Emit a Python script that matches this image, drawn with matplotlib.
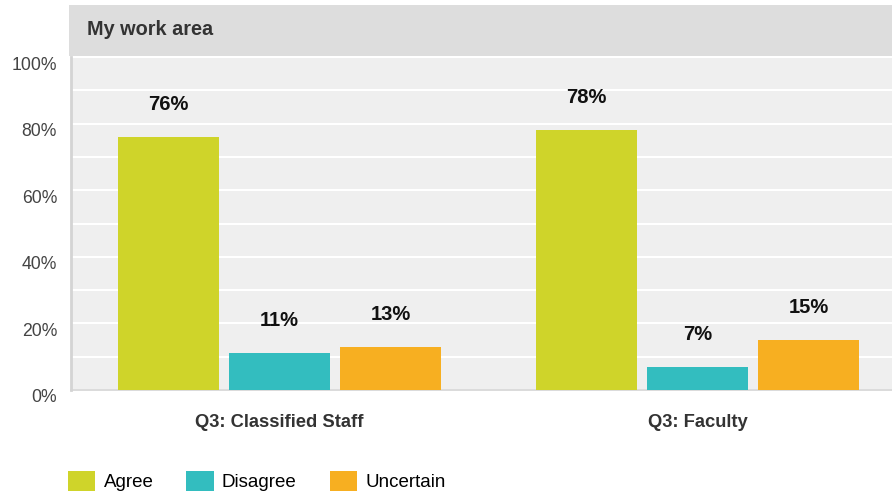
import matplotlib.pyplot as plt
import matplotlib.transforms as mtransforms
from matplotlib.patches import Patch
import numpy as np

plt.rcParams['font.family'] = ['Liberation Sans', 'DejaVu Sans']

categories = ["Q3: Classified Staff", "Q3: Faculty"]
series = ["Agree", "Disagree", "Uncertain"]
agree = [76, 78]
disagree = [11, 7]
uncertain = [13, 15]
colors = ["#cfd42a", "#33bdbf", "#f7af21"]
title = "My work area"

W, H = 892, 492
fig = plt.figure(figsize=(W / 100, H / 100), dpi=100)

# title bar
tax = fig.add_axes([69 / W, 1 - 56 / H, (W - 69) / W, 51 / H])
tax.set_facecolor("#dddddd")
tax.set_xticks([]); tax.set_yticks([])
for s in tax.spines.values():
    s.set_visible(False)
tax.text(18 / (W - 69), 0.52, title, fontsize=14.3, fontweight="bold", color="#333333",
         va="center", ha="left", transform=tax.transAxes)

ax = fig.add_axes([71 / W, 1 - 390 / H, (W - 71) / W, 333 / H])
ax.set_facecolor("#efefef")
ax.set_axisbelow(True)

x = np.arange(len(categories))
width = 0.2416
step = 0.2655
for i, (vals, c) in enumerate(zip([agree, disagree, uncertain], colors)):
    pos = x + (i - 1) * step
    ax.bar(pos, vals, width=width, color=c, zorder=3)
    for p, v in zip(pos, vals):
        ax.text(p, v + 9.8, f"{v}%", ha="center", va="center", fontsize=14.5,
                fontweight="bold", color="#111111", zorder=4)

ax.set_xlim(-0.499, 1.465)
ax.set_ylim(0, 100)
ax.set_yticks(np.arange(0, 101, 10), minor=True)
ax.set_yticks(np.arange(0, 101, 20))
ax.set_yticklabels([f"{v}%" for v in range(0, 101, 20)], fontsize=12.7, color="#444444")
ax.grid(axis="y", which="both", color="white", linewidth=1.5)
ax.tick_params(axis="y", which="both", length=0, pad=10)
offset = mtransforms.ScaledTranslation(0, -6 / 100, fig.dpi_scale_trans)
for lbl in ax.get_yticklabels():
    lbl.set_transform(lbl.get_transform() + offset)

ax.set_xticks(x)
ax.set_xticklabels(categories, fontsize=13.2, fontweight="bold", color="#333333")
ax.tick_params(axis="x", length=0, pad=17)

for s in ["top", "right"]:
    ax.spines[s].set_visible(False)
ax.spines["left"].set_color("#d4d4d4")
ax.spines["left"].set_linewidth(2)
ax.spines["bottom"].set_color("#d4d4d4")
ax.spines["bottom"].set_linewidth(1.2)

handles = [Patch(facecolor=c, edgecolor="none", label=s) for s, c in zip(series, colors)]
fig.legend(handles=handles, loc="center left", bbox_to_anchor=(68 / W, 1 - 481 / H),
           ncol=3, frameon=False, fontsize=13.5, handlelength=1.45, handleheight=1.25,
           handletextpad=0.45, columnspacing=1.75, borderaxespad=0, borderpad=0)

fig.savefig("out.png", dpi=100)
